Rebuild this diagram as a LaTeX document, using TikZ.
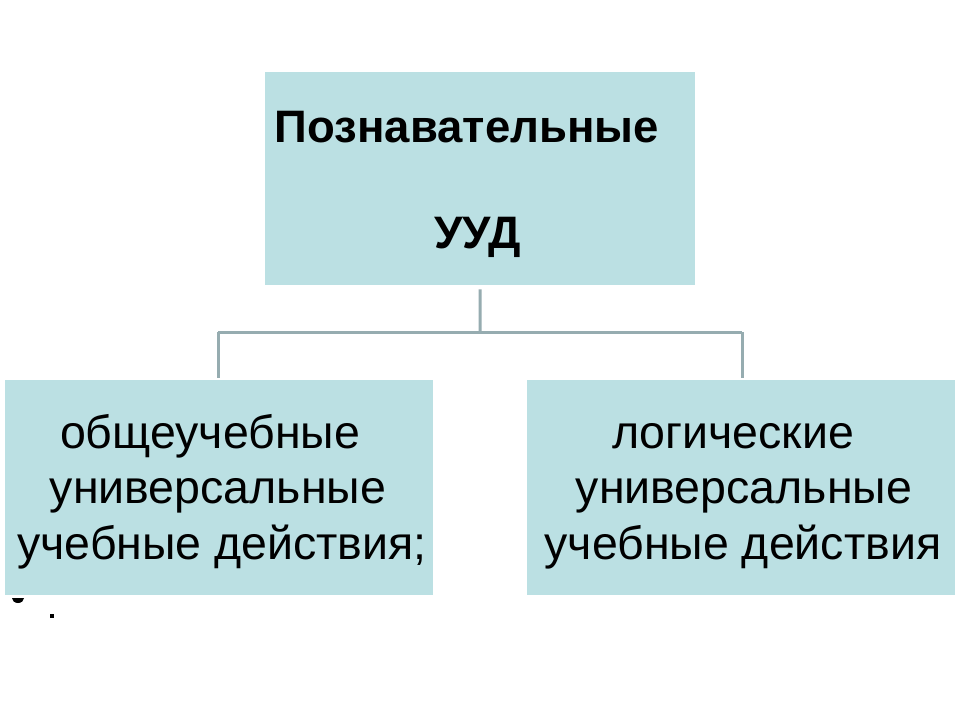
\documentclass[tikz,border=0pt]{standalone}
\usepackage{fontspec}
\setmainfont{Liberation Sans}
\definecolor{boxfill}{RGB}{187,224,227}
\definecolor{linkcol}{RGB}{150,172,176}
\begin{document}
\begin{tikzpicture}[x=1pt,y=-1pt,
  boxnode/.style={fill=boxfill,draw=none,inner sep=0pt,anchor=north west},
  txtline/.style={anchor=base,inner sep=0pt,font=\fontsize{46.5}{56}\selectfont},
  ttlline/.style={anchor=base,inner sep=0pt,font=\fontsize{45.5}{54}\selectfont\bfseries},
  link/.style={draw=linkcol,line width=3pt}]
\useasboundingbox (0,0) rectangle (960,720);
\fill[white] (0,0) rectangle (960,720);
% boxes
\node[boxnode,minimum width=430pt,minimum height=213pt] (top) at (265,72) {};
\node[boxnode,minimum width=428pt,minimum height=215pt] (left) at (5,380) {};
\node[boxnode,minimum width=428pt,minimum height=215pt] (right) at (527,380) {};
% connectors
\coordinate (jtop) at (480,332);
\coordinate (jl) at (218,332);
\coordinate (jr) at (742,332);
\draw[link] ([yshift=-4pt]top.south) -- (jtop);
\draw[link] (jl) -- (jr);
\draw[link] (jl) -- ([yshift=2pt]jl |- left.north);
\draw[link] (jr) -- ([yshift=2pt]jr |- right.north);
% title text
\node[ttlline] (t1) at (467,142) {Познавательные};
\node[ttlline] (t2) at (478,248) {УУД};
% left text
\node[txtline] (l1) at (210,448) {общеучебные};
\node[txtline] (l2) at (218,503) {универсальные};
\node[txtline] (l3) at (222,559) {учебные действия;};
% right text
\node[txtline] (r1) at (733,448) {логические};
\node[txtline] (r2) at (744,503) {универсальные};
\node[txtline] (r3) at (743,559) {учебные действия};
% stray marks
\fill[black] (12,598) arc[start angle=180,end angle=360,x radius=6pt,y radius=5pt] -- cycle;
\fill[black] (50,614) rectangle (54,618);
\end{tikzpicture}
\end{document}
